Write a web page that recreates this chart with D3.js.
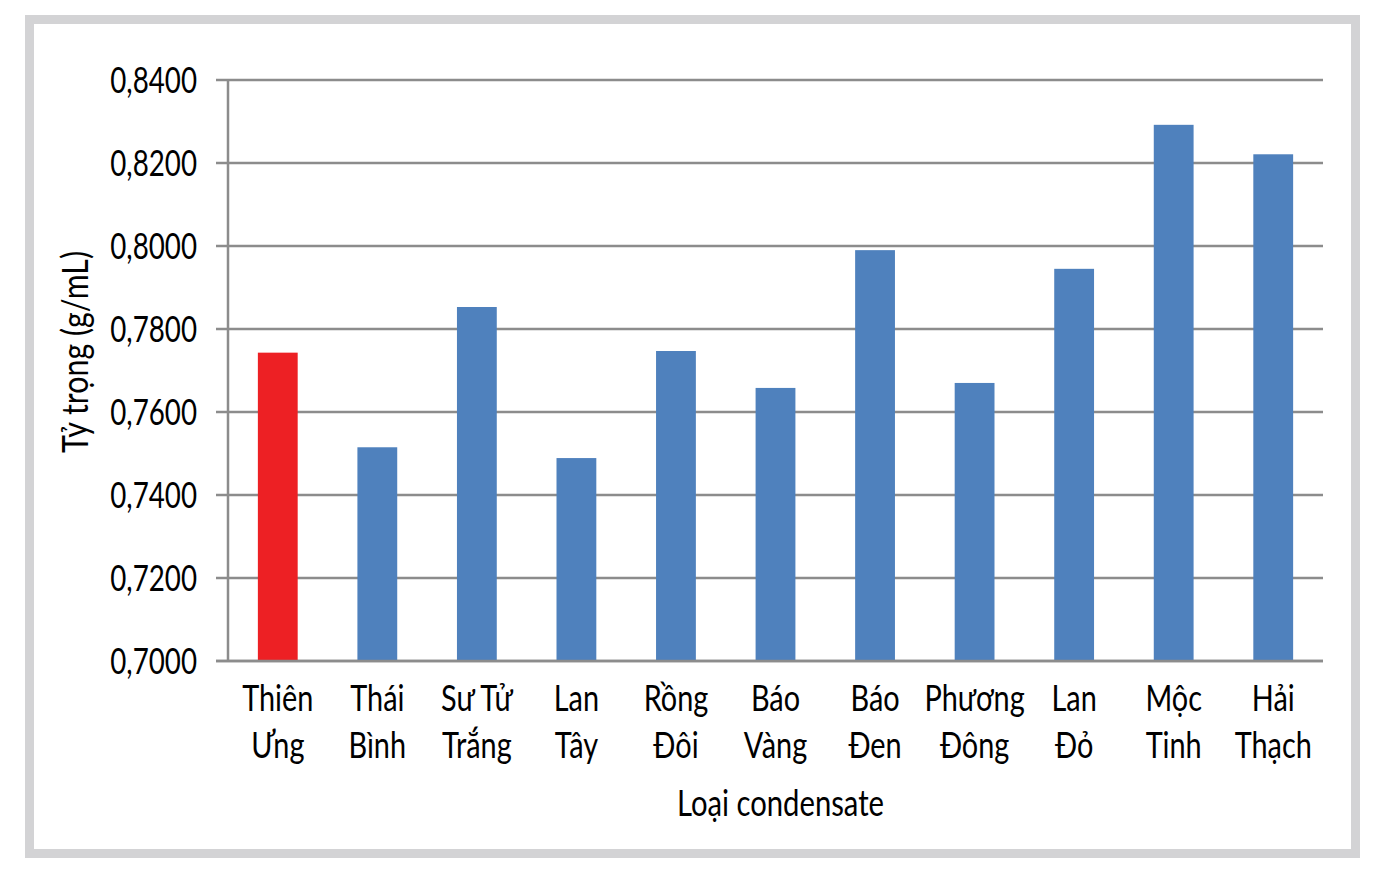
<!DOCTYPE html>
<html><head><meta charset="utf-8">
<script src="https://cdn.jsdelivr.net/npm/d3@7"></script>
<style>
html,body{margin:0;padding:0;background:#fff;}
svg text{font-family:"Lato","Open Sans",sans-serif;fill:#000;}
</style></head>
<body><svg id="c" width="1385" height="874"></svg>
<script>
const categories = [["Thiên","Ưng"],["Thái","Bình"],["Sư Tử","Trắng"],["Lan","Tây"],["Rồng","Đôi"],["Báo","Vàng"],["Báo","Đen"],["Phương","Đông"],["Lan","Đỏ"],["Mộc","Tinh"],["Hải","Thạch"]];
const values = [0.7743,0.7515,0.7853,0.7489,0.7747,0.7658,0.7990,0.7670,0.7945,0.8292,0.8221];
const highlight = [true,false,false,false,false,false,false,false,false,false,false];
const yTicks = [0.70,0.72,0.74,0.76,0.78,0.80,0.82,0.84];
const yTitle = "Tỷ trọng (g/mL)";
const xTitle = "Loại condensate";

const FS = 37;
const svg = d3.select("#c");
// frame
svg.append("rect").attr("x",29.5).attr("y",19.5).attr("width",1326).attr("height",834)
  .attr("fill","#fff").attr("stroke","#d3d3d5").attr("stroke-width",9);

const L=228, R=1323, T=80, B=661;
const x = d3.scaleBand().domain(d3.range(categories.length)).range([L,R]).paddingInner(0.6).paddingOuter(0.3);
const y = d3.scaleLinear().domain([0.70,0.84]).range([B,T]);
const gridC="#8c8c8c";
const fmt = v => d3.format(".4f")(v).replace(".",",");

// gridlines
svg.append("g").selectAll("line").data(yTicks).join("line")
  .attr("x1",216).attr("x2",R).attr("y1",d=>y(d)).attr("y2",d=>y(d))
  .attr("stroke",gridC).attr("stroke-width",2.5);
// y labels
svg.append("g").selectAll("text").data(yTicks).join("text")
  .attr("transform",d=>`translate(197,${y(d)}) scale(0.75,1)`).attr("dy","0.36em").attr("text-anchor","end")
  .attr("font-size",FS).text(fmt);

// bars
svg.append("g").selectAll("rect").data(values).join("rect")
  .attr("x",(d,i)=>x(i)).attr("width",x.bandwidth())
  .attr("y",d=>y(d)).attr("height",d=>B-y(d))
  .attr("fill",(d,i)=>highlight[i]?"#ed2024":"#4f81bd");

// axes lines
svg.append("line").attr("x1",L).attr("x2",L).attr("y1",T).attr("y2",B).attr("stroke",gridC).attr("stroke-width",2.5);
svg.append("line").attr("x1",216).attr("x2",R).attr("y1",B).attr("y2",B).attr("stroke",gridC).attr("stroke-width",2.5);

// category labels
const cl = svg.append("g").selectAll("text").data(categories).join("text")
  .attr("text-anchor","middle").attr("font-size",FS)
  .attr("transform",(d,i)=>`translate(${x(i)+x.bandwidth()/2},0) scale(0.78,1)`);
cl.selectAll("tspan").data(d=>d).join("tspan").attr("x",0).attr("y",(d,j)=>711+j*47).text(d=>d);

// axis titles
svg.append("text").attr("transform",`translate(${(L+R)/2+5},816) scale(0.79,1)`).attr("text-anchor","middle").attr("font-size",FS).text(xTitle);
svg.append("text").attr("transform",`translate(88,352) rotate(-90) scale(0.82,1)`).attr("text-anchor","middle").attr("font-size",FS).text(yTitle);
</script></body></html>
